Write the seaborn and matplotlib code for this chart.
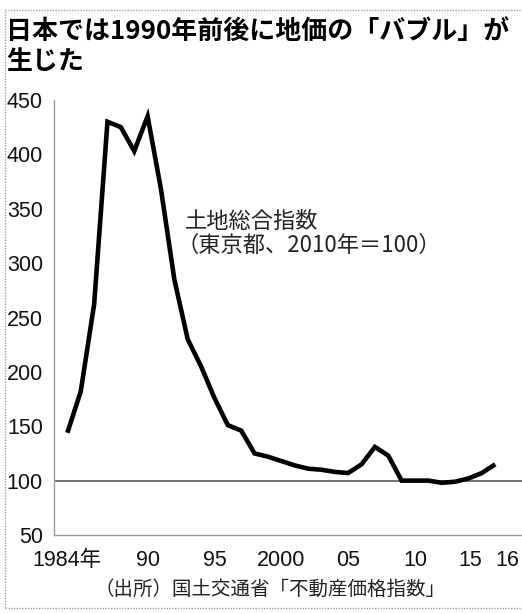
import matplotlib
matplotlib.use("Agg")
import matplotlib.pyplot as plt
from matplotlib import font_manager
from matplotlib.patches import Rectangle
from matplotlib.transforms import offset_copy
import seaborn as sns
import pandas as pd

# Tokyo land price index (2010 = 100)
years = list(range(1984, 2017))
index_values = [144, 182, 262, 430, 425, 403, 435, 368, 285, 230,
                205, 176, 151, 146, 125, 122, 118, 114, 111, 110,
                108, 107, 115, 131, 123, 100, 100, 100, 98, 99,
                102, 107, 115]
y_ticks = [50, 100, 150, 200, 250, 300, 350, 400, 450]
x_major = [1984, 1990, 1995, 2000, 2005, 2010, 2015, 2016]
x_labels = ["1984年", "90", "95", "2000", "05", "10", "15", "16"]

title = "日本では1990年前後に地価の「バブル」が\n生じた"
series_name = "土地総合指数"
series_note = "（東京都、2010年＝100）"
source = "（出所）国土交通省「不動産価格指数」"

df = pd.DataFrame({"year": years, "index": index_values})

sns.set_theme(style="white")
CJK = "Noto Sans CJK JP"


def narrow_family():
    try:
        font_manager.findfont("Liberation Sans Narrow", fallback_to_default=False)
        return ["Liberation Sans Narrow", CJK]
    except Exception:
        return ["Liberation Sans", CJK]


NUM = narrow_family()
plt.rcParams["font.family"] = [CJK, "DejaVu Sans"]

fig = plt.figure(figsize=(5.22, 6.14), dpi=100)
ax = fig.add_axes([54 / 522, 1 - 535 / 614, 1 - 54 / 522, (535 - 100) / 614])

sns.lineplot(data=df, x="year", y="index", ax=ax, color="black",
             linewidth=3.3, solid_joinstyle="miter", solid_capstyle="butt")

ax.axhline(100, color="#6a6a6a", linewidth=1.3, zorder=1)

ax.set_xlim(1983, 2018)
ax.set_ylim(50, 450)
ax.set_xlabel("")
ax.set_ylabel("")

for side in ("top", "right"):
    ax.spines[side].set_visible(False)
for side in ("left", "bottom"):
    ax.spines[side].set_color("#9a9a9a")
    ax.spines[side].set_linewidth(1.0)

ax.set_yticks(y_ticks)
ax.set_yticklabels([str(v) for v in y_ticks], family=NUM, fontsize=15.5, color="#111")
ax.tick_params(axis="y", direction="in", length=8, width=1.0, color="#9a9a9a", pad=8)

ax.set_xticks(x_major)
ax.set_xticks(years, minor=True)
ax.set_xticklabels(x_labels, family=NUM, fontsize=15.5, color="#111")
ax.tick_params(axis="x", which="major", direction="in", length=15, width=1.0,
               color="#9a9a9a", pad=11)
ax.tick_params(axis="x", which="minor", direction="in", length=8, width=1.0,
               color="#9a9a9a")
for lbl in ax.get_xticklabels():
    if lbl.get_text() == "15":
        lbl.set_horizontalalignment("right")
    elif lbl.get_text() == "16":
        lbl.set_horizontalalignment("left")

# series annotation, second line nudged left so the bracket lines up
ax.text(1992.8, 349, series_name, fontsize=16, color="#222",
        ha="left", va="top")
ax.text(1992.8, 327, series_note, fontsize=16, color="#222",
        ha="left", va="top",
        transform=offset_copy(ax.transData, fig=fig, x=-9, y=0, units="dots"))

fig.text(6 / 522, 1 - 18 / 614, title, fontsize=18.7, fontweight="bold",
         color="black", ha="left", va="top", linespacing=1.13)

fig.text(94 / 522, 1 - 589 / 614, source, fontsize=14, color="#222",
         ha="left", va="center")

fig.add_artist(Rectangle((5 / 522, 1 - 608 / 614), 1.2, (608 - 10) / 614,
                         transform=fig.transFigure, fill=False,
                         edgecolor="#a0a0a0", linewidth=1.0,
                         linestyle=(0, (1, 1))))

fig.savefig("out.png", dpi=100)
